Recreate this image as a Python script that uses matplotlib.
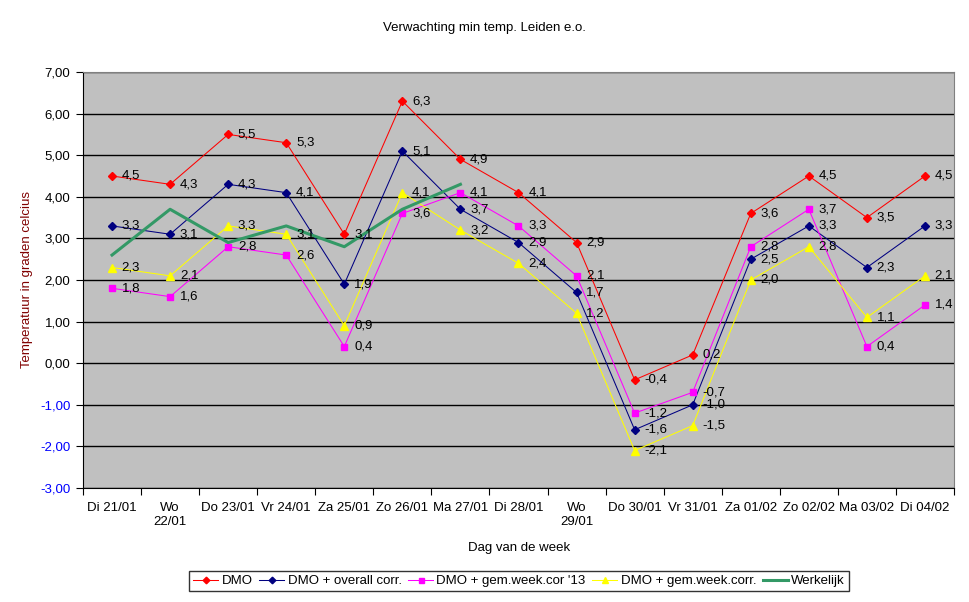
import matplotlib
matplotlib.use("Agg")
import matplotlib.pyplot as plt
import numpy as np

plt.rcParams['font.family'] = ['Liberation Sans', 'DejaVu Sans']

# -----------------------------
# DATA
# -----------------------------
days = ["Di 21/01", "Wo\n22/01", "Do 23/01", "Vr 24/01", "Za 25/01", "Zo 26/01",
        "Ma 27/01", "Di 28/01", "Wo\n29/01", "Do 30/01", "Vr 31/01", "Za 01/02",
        "Zo 02/02", "Ma 03/02", "Di 04/02"]

dmo = [4.5, 4.3, 5.5, 5.3, 3.1, 6.3, 4.9, 4.1, 2.9, -0.4, 0.2, 3.6, 4.5, 3.5, 4.5]
dmo_overall = [3.3, 3.1, 4.3, 4.1, 1.9, 5.1, 3.7, 2.9, 1.7, -1.6, -1.0, 2.5, 3.3, 2.3, 3.3]
dmo_week13 = [1.8, 1.6, 2.8, 2.6, 0.4, 3.6, 4.1, 3.3, 2.1, -1.2, -0.7, 2.8, 3.7, 0.4, 1.4]
dmo_week = [2.3, 2.1, 3.3, 3.1, 0.9, 4.1, 3.2, 2.4, 1.2, -2.1, -1.5, 2.0, 2.8, 1.1, 2.1]
werkelijk = [2.6, 3.7, 2.9, 3.3, 2.8, 3.7, 4.3]

y_ticks = list(range(-3, 8))

# -----------------------------
# PLOT
# -----------------------------
fig = plt.figure(figsize=(9.69, 6.02), dpi=100)
ax = fig.add_axes([83 / 969, 1 - 488 / 602, (954 - 83) / 969, (488 - 72) / 602])
ax.set_facecolor("#C0C0C0")

x = np.arange(len(days))

series = [
    (dmo, "DMO", "#FF0000", "D", 4.2),
    (dmo_overall, "DMO + overall corr.", "#000080", "D", 4.2),
    (dmo_week13, "DMO + gem.week.cor '13", "#FF00FF", "s", 4.5),
    (dmo_week, "DMO + gem.week.corr.", "#FFFF00", "^", 5.5),
]

for vals, name, col, mk, ms in series:
    ax.plot(x, vals, color=col, lw=0.75, marker=mk, markersize=ms,
            markeredgecolor=col, markerfacecolor=col, label=name, zorder=3)
    for xi, v in zip(x, vals):
        ax.annotate(f"{v:.1f}".replace(".", ","), (xi, v), xytext=(7, 0),
                    textcoords="offset points", va="center", ha="left",
                    fontsize=9.5, color="black", zorder=5)

ax.plot(np.arange(len(werkelijk)), werkelijk, color="#339966", lw=2.2,
        label="Werkelijk", zorder=4)

# axes
ax.set_xlim(-0.5, len(days) - 0.5)
ax.set_ylim(-3, 7)
ax.set_yticks(y_ticks)
ax.set_yticklabels([f"{v:.2f}".replace(".", ",") for v in y_ticks], fontsize=9.5)
for lbl, v in zip(ax.get_yticklabels(), y_ticks):
    if v < 0:
        lbl.set_color("#0000FF")
ax.yaxis.grid(True, color="black", lw=1.0)
ax.set_axisbelow(True)

ax.set_xticks(np.arange(len(days) + 1) - 0.5)
ax.set_xticklabels([])
ax.set_xticks(x, minor=True)
ax.set_xticklabels(days, minor=True, fontsize=9.5)
ax.tick_params(axis="x", which="minor", length=0, pad=10)
ax.tick_params(axis="x", which="major", length=5, direction="out")
ax.tick_params(axis="y", length=5, direction="out", pad=4)

for side in ["top", "right"]:
    ax.spines[side].set_color("#808080")
for side in ["left", "bottom"]:
    ax.spines[side].set_color("black")

fig.text(484 / 969, 1 - 28 / 602, "Verwachting min temp. Leiden e.o.",
         ha="center", va="center", fontsize=9.5)
fig.text(519 / 969, 1 - 548 / 602, "Dag van de week",
         ha="center", va="center", fontsize=9.5)
fig.text(27 / 969, 1 - 280 / 602, "Temperatuur in graden celcius",
         ha="center", va="center", rotation=90, fontsize=9.5, color="#800000")

leg = fig.legend(loc="center", bbox_to_anchor=(519 / 969, 1 - 581 / 602),
                 ncol=5, fontsize=9.5, frameon=True, fancybox=False,
                 handlelength=1.9, handletextpad=0.25, columnspacing=0.5,
                 borderpad=0.3, markerscale=0.8)
leg.get_frame().set_edgecolor("black")
leg.get_frame().set_linewidth(1.0)

fig.savefig("out.png", dpi=100)
